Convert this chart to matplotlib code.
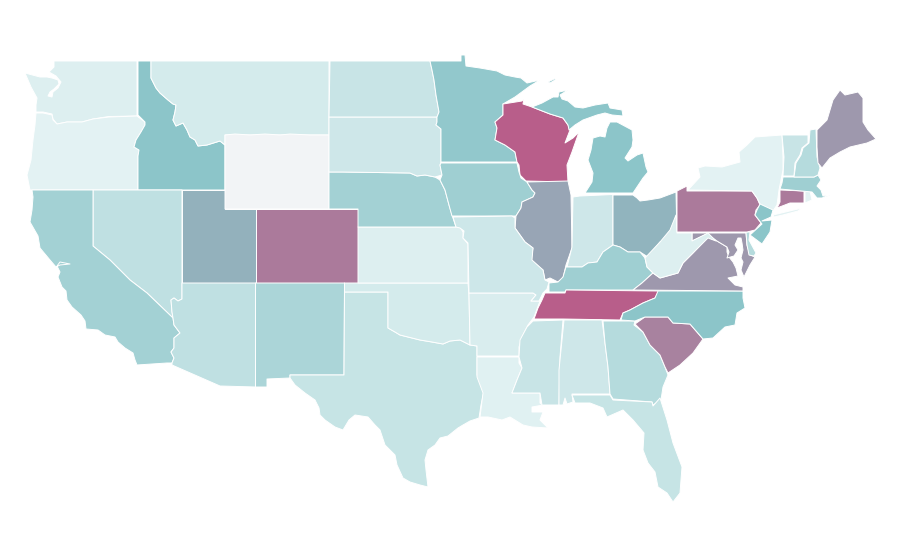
import matplotlib
matplotlib.use('Agg')
import matplotlib.pyplot as plt
from matplotlib.collections import PolyCollection
from matplotlib.colors import LinearSegmentedColormap

# State outlines in its own x/y units
washington = [(54,61),(137,61),(137,116),(109,116.5),(93,119),(82,122),(67,122),(57,124),(53,119),(52,114),(43,112),(36,112),(36,105),(37,98),(31,87),(25,73),(40,77),(47,77),(52,78),(58,80),(59,84),(54,89),(50,92),(48,96),(52,97),(53,92),(58,88),(61,82),(56,76),(49,72),(54,67)]
oregon = [(36,113),(43,113),(52,115),(53,120),(57,124),(67,122),(82,122),(93,119),(109,117),(137,116),(145,122),(145,125),(141,132),(136,140),(134,147),(139,150),(138,156),(138,190),(30,190),(27,175),(31,160),(33,140),(35,125)]
idaho = [(138,61),(151,61),(151,78),(156,88),(160,93),(168,100),(173,104),(176,105),(175,112),(173,120),(176,126),(183,123),(187,130),(190,137),(195,140),(198,146),(207,145),(220,141),(225,145),(225,190),(138,190),(138,156),(139,150),(134,147),(136,140),(141,132),(145,125),(145,122),(138,115)]
montana = [(151,61),(329,61),(329,135),(225,135),(225,145),(220,141),(207,145),(198,146),(195,140),(190,137),(187,130),(183,123),(176,126),(173,120),(175,112),(176,105),(173,104),(168,100),(160,93),(156,88),(151,78)]
wyoming = [(225,135),(235,134),(250,135),(265,134),(280,135),(290,134),(310,135),(329,135),(329,209),(225,209)]
colorado = [(255.5,209),(358,209),(358,283),(255.5,283)]
utah = [(182,190),(225,190),(225,209),(255.5,209),(255.5,283),(182,283)]
nevada = [(93,190),(182,190),(182,299),(178,301),(174,298),(171,300),(172,312),(173,318),(147,293),(130,280),(110,260),(93,246)]
california = [(32,190),(93,190),(93,246),(110,260),(130,280),(147,293),(173,318),(174,325),(180,333),(174,338),(174,348),(171,352),(174,358),(172,363),(167,363),(137,365),(135,360),(133,353),(125,348),(118,342),(115,337),(105,335),(98,330),(86,329),(85,321),(81,315),(72,307),(67,300),(66,291),(62,287),(58,277),(60,272),(57,266),(60,262),(70,264),(60,265),(56,267),(50,260),(40,248),(38,236),(30,222),(32,210),(33,197)]
arizona = [(182,283),(255.5,283),(255.5,387),(220,386),(172,365),(172,363),(174,358),(171,352),(174,348),(174,338),(180,333),(174,325),(173,318),(172,312),(171,300),(174,298),(178,301),(182,299)]
new_mexico = [(255.5,283),(344.5,283),(344,375),(290,375),(290,378),(267,379),(267,387),(255.5,387)]
texas = [(344.5,292),(388,292),(388,328),(395,332),(400,335),(412,338),(420,340),(432,342),(443,344),(450,341),(460,340),(470,345),(477,346),(477,375),(482,385),(484,391),(481,405),(479,418),(470,421),(463,425),(458,428),(448,436),(440,438),(435,445),(428,450),(425,460),(426,470),(428,487),(420,485),(410,482),(403,478),(397,465),(395,455),(385,445),(380,430),(375,425),(368,417),(355,415),(349,420),(343,430),(335,427),(325,420),(320,415),(319,408),(315,400),(305,393),(295,385),(290,378),(290,375),(344,375)]
oklahoma = [(344.5,283),(468,283),(469,295),(470,345),(460,340),(450,341),(443,344),(432,342),(420,340),(412,338),(400,335),(395,332),(388,328),(388,292),(344.5,292)]
kansas = [(358,227),(460,227),(463,232),(463,238),(468,244),(468,283),(358,283)]
nebraska = [(329,172),(342,172),(410,173),(417,176),(425,175),(435,177),(440,180),(445,190),(449,205),(452,215),(456,227),(358,227),(358,209),(329,209)]
south_dakota = [(329,117),(437,117),(437,122),(436,125),(441,129),(441,162),(440,165),(442,175),(435,177),(425,175),(417,176),(410,173),(342,172),(329,172)]
north_dakota = [(330,61),(430,61),(432,70),(434,80),(436,95),(439,112),(437,117),(329,117)]
minnesota = [(430,61),(461,61),(461,55),(465,55),(466,66),(480,68),(497,71),(505,75),(515,77),(521,78),(527,83),(540,80),(530,86),(515,97),(503,104),(503,115),(495,122),(497,128),(495,140),(505,145),(515,152),(517,162),(441,162),(441,129),(436,125),(437,122),(437,117),(439,112),(436,95),(434,80),(432,70)]
wisconsin = [(503,104),(522,101),(524,99),(523,104),(532,107),(550,114),(563,118),(568,125),(570,130),(565,143),(573,138),(579,132),(572,152),(567,165),(568,182),(526,181),(520,175),(519,165),(517,162),(515,152),(505,145),(495,140),(497,128),(495,122),(503,115)]
iowa = [(441,163),(517,163),(519,172),(521,178),(527,182),(532,190),(535,193),(533,197),(522,202),(521,208),(516,216),(510,216),(452,216),(449,205),(445,190),(440,180),(442,175),(440,165)]
illinois = [(527,182),(568,181),(571,195),(572,248),(566,265),(563,278),(558,282),(550,278),(545,280),(543,270),(531,260),(533,248),(525,242),(515,228),(516,216),(521,208),(522,202),(533,197),(535,193),(532,190)]
indiana = [(573,197),(580,196),(613,194.5),(613,245),(603,252),(597,262),(588,263),(582,267),(567,267),(572,247)]
ohio = [(613,195),(633,195),(637,198),(640,201),(648,200),(660,198),(676,192),(676.5,215),(672,230),(665,240),(660,242),(648,257),(640,252),(628,252),(620,247),(613,245)]
michigan_lower = [(585,193),(592,182),(593,173),(588,160),(591,150),(593,138),(600,136),(605,137),(607,128),(610,122),(617,122),(632,130),(633,140),(632,147),(625,158),(628,161),(637,155),(643,153),(646,167),(648,172),(643,178),(633,193)]
michigan_upper = [(532,107),(542,103),(553,97),(558,97),(559,92),(568,90),(560,95),(562,99),(568,101),(575,107),(583,108),(595,105),(608,103),(610,108),(622,110),(623,116),(612,115),(605,113),(597,115),(583,120),(575,125),(569,130),(568,125),(563,118),(550,114)]
isle_royale = [(548,82),(556,78),(555,80),(550,83)]
kentucky = [(566,267),(582,267),(588,263),(597,262),(603,252),(613,245),(620,247),(628,252),(640,252),(645,258),(647,267),(653,273),(642,283),(633,290),(566,290),(565,292),(549,292),(549,283),(558,282),(563,277)]
tennessee = [(545,293),(565,293),(566,290),(657,291),(659,291),(655,298),(643,303),(630,310),(623,313),(620,320),(563,319),(534,319),(538,308),(542,300)]
arkansas = [(469,293),(533,293),(536,295),(531,301),(540,301),(534,317),(528,325),(522,337),(519,347),(519,356),(477,356),(477,346),(470,345),(469,295)]
missouri = [(453,217),(512,216),(515,218),(515,228),(525,242),(533,248),(532,260),(543,270),(545,280),(549,282),(547,289),(543,293),(539,301),(531,301),(536,295),(533,293),(469,293),(468,243),(463,238),(464,231),(460,228),(456,227)]
louisiana = [(477,357),(519,357),(519,363),(522,368),(517,380),(512,393),(540,393),(540,403),(543,405),(532,407),(532,412),(543,412),(540,420),(548,428),(532,427),(523,425),(510,417),(502,420),(488,417),(480,417),(483,393),(477,377)]
mississippi = [(533,321),(563,320),(560,357),(559,405),(542,405),(540,393),(512,393),(517,380),(522,368),(519,357),(520,340),(527,327)]
alabama = [(564,320),(602,320),(605,343),(608,367),(610,394),(572,394),(573,402),(567,404),(565,398),(563,405),(559,405),(559,370)]
georgia = [(603,321),(635,321),(634,325),(643,332),(650,345),(660,355),(665,367),(668,375),(663,387),(661,400),(653,405),(652,402),(613,399),(610,394),(608,367),(605,343)]
florida = [(572,395),(610,395),(613,400),(652,402),(653,406),(660,398),(667,420),(673,443),(682,467),(680,493),(673,502),(667,493),(658,487),(655,472),(648,463),(643,450),(644,433),(633,420),(623,410),(607,417),(603,408),(590,403),(575,403)]
south_carolina = [(635,324),(645,317),(668,317),(673,323),(690,324),(703,339),(693,353),(680,365),(668,373),(665,367),(660,355),(650,345),(643,332)]
north_carolina = [(658,291),(743,291),(743,298),(745,308),(737,313),(735,325),(725,327),(713,338),(703,339),(690,324),(673,323),(668,317),(645,317),(635,321),(621,320),(623,313),(630,310),(643,303),(655,298)]
virginia = [(633,290),(642,283),(653,273),(660,278),(678,273),(683,263),(693,253),(708,237),(717,241),(727,247),(727,252),(729,257),(733,262),(736,268),(738,276),(728,278),(735,285),(743,287),(743,291)]
maryland = [(692,233),(746,233),(747,245),(750,255),(755,257),(750,265),(744,277),(741,270),(743,262),(741,258),(743,250),(742,243),(741,238),(738,238),(735,245),(738,250),(734,256),(727,258),(729,252),(727,247),(717,241),(707,234),(692,241)]
delaware = [(746,232),(750,232),(749,240),(756,253),(754,256),(749,255),(747,245)]
west_virginia = [(645,258),(660,242),(670,230),(676,215),(677,233),(692,233),(692,241),(708,233),(716,241),(708,238),(693,253),(683,263),(678,273),(660,278),(653,273),(647,267)]
pennsylvania = [(677,191),(687,186),(687,191),(752,191),(757,198),(760,205),(756,210),(755,215),(761,223),(755,230),(747,232),(677,232)]
new_york = [(688,190),(700,177),(698,168),(705,166),(722,167),(740,162),(739,152),(747,145),(755,137),(782,135),(783,157),(783,170),(779,190),(777,205),(773,211),(760,204),(757,198),(752,191)]
long_island = [(773,215),(802,208),(798,211),(783,215),(774,217)]
connecticut = [(780,190),(804,191),(804,203),(790,203),(777,208),(780,202)]
rhode_island = [(805,191),(810,191),(812,200),(805,203)]
massachusetts = [(783,177),(814,177),(818,175),(821,180),(817,186),(821,190),(823,196),(830,195),(822,198),(817,198),(812,192),(780,189),(782,183)]
vermont = [(782,135),(808,135),(808,143),(802,148),(800,155),(795,163),(794,176),(783,176),(784,157)]
new_hampshire = [(810,130),(816,129),(817,157),(820,168),(818,175),(814,177),(794,177),(796,163),(801,155),(803,148),(809,143)]
maine = [(817,130),(827,120),(830,110),(833,100),(840,90),(845,95),(858,92),(863,98),(863,122),(868,130),(876,139),(867,143),(850,147),(840,152),(830,158),(822,168),(818,163),(817,147)]
new_jersey = [(760,204),(773,210),(771,217),(762,221),(772,220),(770,232),(762,244),(750,235),(762,224),(755,215),(757,210)]

# Draw order, outline and value of each state (Wyoming goes over its neighbours)
states = [washington, oregon, idaho, montana, utah, colorado, wyoming, nevada, california, arizona, new_mexico,
          texas, oklahoma, kansas, nebraska, south_dakota, north_dakota, minnesota, wisconsin, iowa, illinois,
          indiana, ohio, michigan_lower, michigan_upper, isle_royale, kentucky, tennessee, arkansas, missouri,
          louisiana, mississippi, alabama, georgia, florida, south_carolina, north_carolina, virginia, maryland,
          delaware, west_virginia, pennsylvania, new_york, long_island, connecticut, rhode_island,
          massachusetts, vermont, new_hampshire, maine, new_jersey]
values = [0.113, 0.08, 0.49, 0.15, 0.59, 0.855, 0.0, 0.25, 0.382, 0.25, 0.344,
          0.217, 0.15, 0.113, 0.382, 0.18, 0.21, 0.462, 0.985, 0.40, 0.65,
          0.18, 0.575, 0.49, 0.49, 0.49, 0.40, 0.985, 0.132, 0.184,
          0.094, 0.21, 0.18, 0.297, 0.217, 0.82, 0.49, 0.71, 0.71,
          0.297, 0.113, 0.855, 0.08, 0.08, 0.855, 0.08,
          0.40, 0.21, 0.297, 0.71, 0.495]

cmap = LinearSegmentedColormap.from_list('map', [(0, '#f2f4f6'), (0.08, '#e3f2f3'), (0.25, '#bfe0e2'),
                                                 (0.5, '#8ac4c8'), (1, '#b95c88')])

fig = plt.figure(figsize=(9, 5.6), dpi=100)
ax = fig.add_axes([0, 0, 1, 1])
shapes = PolyCollection(states, array=values, cmap=cmap, edgecolors='white', linewidths=0.7)
shapes.set_clim(0, 1)
ax.add_collection(shapes)
ax.set_xlim(0, 900)
ax.set_ylim(560, 0)
ax.axis('off')

fig.savefig('out.png', dpi=100, facecolor='white')
